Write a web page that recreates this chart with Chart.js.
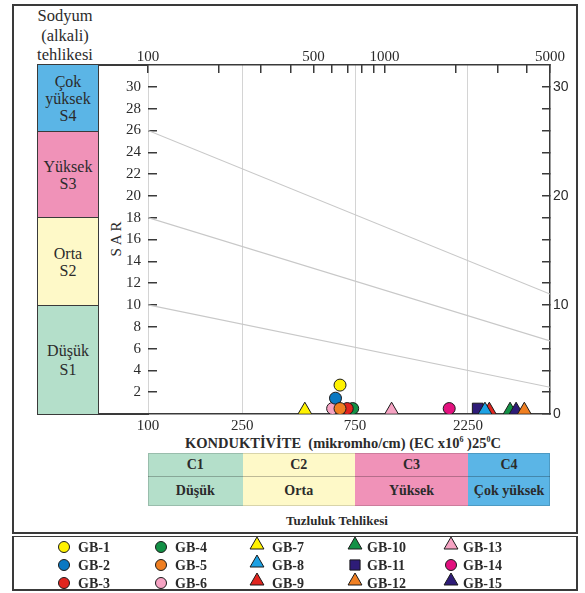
<!DOCTYPE html>
<html>
<head>
<meta charset="utf-8">
<title>Sodyum ve tuzluluk tehlikesi diyagramı</title>
<script src="https://cdn.jsdelivr.net/npm/chart.js@4.4.1/dist/chart.umd.min.js"></script>
<style>
  html, body { margin: 0; padding: 0; background: #fff; }
  #wrap { position: relative; width: 585px; height: 593px; overflow: hidden;
          font-family: "Liberation Serif", "Times New Roman", serif; color: #2b2b2b; }
  #wrap canvas { position: absolute; left: 0; top: 0; }
  .abs { position: absolute; box-sizing: border-box; }
  .frame { border: 2px solid #3a3a3a; }
  .hline { background: #3a3a3a; height: 1.5px; }
  .sbox { left: 37px; width: 62px; border: 1.5px solid #3a3a3a; display: flex; flex-direction: column;
          align-items: center; justify-content: center; font-size: 16px; line-height: 17px; text-align: center; }
  .cell { display: flex; align-items: center; justify-content: center; font-weight: bold; font-size: 14px; }
</style>
</head>
<body>
<div id="wrap">
  <!-- outer frames -->
  <div class="abs frame" style="left:12px; top:4px; width:566px; height:530px;"></div>
  <div class="abs frame" style="left:12px; top:536px; width:566px; height:55px; border-width:1.5px 2px 2px 2px;"></div>

  <!-- sodium hazard heading -->
  <div class="abs" style="left:15px; top:6px; width:100px; text-align:center; font-size:16.5px; line-height:19.5px;">Sodyum<br>(alkali)<br>tehlikesi</div>

  <!-- extended axis lines under the sodium column -->
  <div class="abs hline" style="left:37px; top:64px; width:112px;"></div>
  <div class="abs hline" style="left:37px; top:413px; width:112px;"></div>

  <!-- sodium hazard classes -->
  <div class="abs sbox" style="top:64px; height:68px; background:#5bb5e6;">Çok<br>yüksek<br>S4</div>
  <div class="abs sbox" style="top:130.5px; height:88px; background:#f092b8;">Yüksek<br>S3</div>
  <div class="abs sbox" style="top:216.5px; height:90px; background:#fef9c8;">Orta<br>S2</div>
  <div class="abs sbox" style="top:304.5px; height:110px; background:#b4dfca; line-height:19px;">Düşük<br>S1</div>

  <!-- SAR axis title -->
  <div class="abs" style="left:86px; top:229px; width:60px; text-align:center; font-size:15px; letter-spacing:3px; transform:rotate(-90deg);">SAR</div>

  <!-- conductivity title -->
  <div class="abs" style="left:143px; top:435px; width:400px; text-align:center; font-weight:bold; font-size:14.5px; white-space:nowrap;">KONDUKTİVİTE&nbsp; (mikromho/cm) (EC x10<sup style="font-size:8px;">6</sup> )25<sup style="font-size:8px;">0</sup>C</div>

  <!-- salinity hazard classes -->
  <div class="abs cell" style="left:148px; top:453px; width:94.5px; height:23px; background:#b4dfca;">C1</div>
  <div class="abs cell" style="left:242.5px; top:453px; width:112.5px; height:23px; background:#fef9c8;">C2</div>
  <div class="abs cell" style="left:355px; top:453px; width:113px; height:23px; background:#f092b8;">C3</div>
  <div class="abs cell" style="left:468px; top:453px; width:82px; height:23px; background:#5bb5e6;">C4</div>
  <div class="abs cell" style="left:148px; top:476px; width:94.5px; height:30px; background:#b4dfca;">Düşük</div>
  <div class="abs cell" style="left:242.5px; top:476px; width:112.5px; height:30px; background:#fef9c8;">Orta</div>
  <div class="abs cell" style="left:355px; top:476px; width:113px; height:30px; background:#f092b8;">Yüksek</div>
  <div class="abs cell" style="left:468px; top:476px; width:82px; height:30px; background:#5bb5e6;">Çok yüksek</div>
  <div class="abs" style="left:148px; top:475.5px; width:402px; height:1px; background:rgba(0,0,0,0.25);"></div>
  <div class="abs" style="left:148px; top:453px; width:402px; height:53px; border:1px solid rgba(0,0,0,0.15);"></div>

  <div class="abs" style="left:237px; top:513px; width:200px; text-align:center; font-weight:bold; font-size:13px;">Tuzluluk Tehlikesi</div>

  <canvas id="chart" width="585" height="593"></canvas>
</div>

<script>
// ---- sample data: electrical conductivity (µmho/cm) and sodium adsorption ratio ----
const samples   = ['GB-1','GB-2','GB-3','GB-4','GB-5','GB-6','GB-7','GB-8','GB-9','GB-10','GB-11','GB-12','GB-13','GB-14','GB-15'];
const ecValues  = [648, 620, 695, 733, 648, 603, 460, 2655, 2770, 3390, 2475, 3895, 1070, 1875, 3595];
const sarValues = [2.65, 1.45, 0.5, 0.5, 0.5, 0.5, 0.35, 0.35, 0.35, 0.35, 0.5, 0.35, 0.35, 0.5, 0.35];

// ---- class boundary lines (SAR at EC = 100 and EC = 5000) ----
const ecRange      = [100, 5000];
const boundaryS1S2 = [10, 2.45];
const boundaryS2S3 = [18, 6.7];
const boundaryS3S4 = [26, 11];

// ---- axis ticks ----
const bottomTickValues = [100, 250, 750, 2250];
const topTickValues    = [100, 200, 300, 400, 500, 600, 700, 800, 900, 1000, 2000, 3000, 4000, 5000];
const topLabelValues   = [100, 500, 1000, 5000];
const leftSarTicks     = [2, 4, 6, 8, 10, 12, 14, 16, 18, 20, 22, 24, 26, 28, 30];
const rightSarTicks    = [0, 2, 4, 6, 8, 10, 12, 14, 16, 18, 20, 22, 24, 26, 28, 30];
const rightSarLabels   = [0, 10, 20, 30];

// ---- marker styling ----
const markerShapes = ['circle','circle','circle','circle','circle','circle','triangle','triangle','triangle','triangle','rect','triangle','triangle','circle','triangle'];
const markerColors = ['#fff200','#0a78c2','#e1251f','#139146','#f07f21','#f6a3c3','#fff200','#1da1e3','#e1251f','#139146','#2e1c78','#f07f21','#f6a3c3','#e3117f','#2e1c78'];
const markerLayer  = [1, 4, 3, 5, 2, 6, 7, 8, 9, 12, 10, 11, 13, 14, 11.5];
const shapeRadius  = { circle: 6, triangle: 8, rect: 7.6 };

const SERIF = '"Liberation Serif", "Times New Roman", serif';
const SANS  = '"Liberation Sans", Arial, sans-serif';
const INK   = '#2b2b2b';

function boundary(vals) {
  return {
    data: [{ x: ecRange[0], y: vals[0] }, { x: ecRange[1], y: vals[1] }],
    showLine: true, borderColor: '#c8c8c8', borderWidth: 1.2,
    pointRadius: 0, pointHoverRadius: 0, order: 100
  };
}

const sampleDatasets = samples.map((name, i) => ({
  label: name,
  data: [{ x: ecValues[i], y: sarValues[i] }],
  pointStyle: markerShapes[i],
  pointRadius: shapeRadius[markerShapes[i]],
  pointHoverRadius: shapeRadius[markerShapes[i]],
  backgroundColor: markerColors[i],
  borderColor: '#1a1a1a',
  borderWidth: 1,
  order: markerLayer[i]
}));

// legend laid out in five columns of three entries
const legendPlugin = {
  id: 'sampleLegend',
  afterDraw(chart) {
    const ctx = chart.ctx;
    const markerX = [64, 161, 257, 355, 451];
    const textX   = [78, 175, 272, 367, 463];
    const rowY    = [547, 565, 583];
    ctx.save();
    samples.forEach((name, i) => {
      const c = Math.floor(i / 3), r = i % 3;
      const shape = markerShapes[i];
      const rad = shape === 'circle' ? 5.5 : shape === 'rect' ? 7.2 : 8;
      const dy = shape === 'triangle' ? -2 : 0;
      ctx.fillStyle = markerColors[i];
      ctx.strokeStyle = '#1a1a1a';
      ctx.lineWidth = 1;
      Chart.helpers.drawPoint(ctx, { pointStyle: shape, radius: rad, borderWidth: 1, rotation: 0 }, markerX[c], rowY[r] + dy);
      ctx.fillStyle = INK;
      ctx.font = 'bold 14px ' + SERIF;
      ctx.textAlign = 'left';
      ctx.textBaseline = 'middle';
      ctx.fillText(name, textX[c], rowY[r] + 1);
    });
    ctx.restore();
  }
};

new Chart(document.getElementById('chart'), {
  type: 'scatter',
  data: {
    datasets: [boundary(boundaryS1S2), boundary(boundaryS2S3), boundary(boundaryS3S4), ...sampleDatasets]
  },
  options: {
    responsive: false,
    animation: false,
    layout: { padding: 0 },
    plugins: { legend: { display: false }, tooltip: { enabled: false } },
    scales: {
      x: {
        type: 'logarithmic', position: 'bottom', min: ecRange[0], max: ecRange[1],
        afterBuildTicks: s => { s.ticks = bottomTickValues.map(v => ({ value: v })); },
        afterFit: s => { s.height = 179; },
        grid: { color: '#d4d4d4', lineWidth: 1, drawTicks: false },
        border: { color: '#3a3a3a', width: 1.5 },
        ticks: { padding: 3, autoSkip: false, maxRotation: 0, color: INK,
                 font: { family: SERIF, size: 15 }, callback: v => String(v) }
      },
      x2: {
        type: 'logarithmic', position: 'top', min: ecRange[0], max: ecRange[1],
        afterBuildTicks: s => { s.ticks = topTickValues.map(v => ({ value: v })); },
        afterFit: s => { s.height = 65; },
        grid: { drawOnChartArea: false, tickLength: -8, color: '#3a3a3a', lineWidth: 1.5 },
        border: { color: '#3a3a3a', width: 1.5 },
        ticks: { padding: 7, autoSkip: false, maxRotation: 0, color: INK,
                 font: { family: SERIF, size: 15 },
                 callback: v => topLabelValues.includes(v) ? String(v) : '' }
      },
      y: {
        type: 'linear', position: 'left', min: 0, max: 32,
        afterBuildTicks: s => { s.ticks = leftSarTicks.map(v => ({ value: v })); },
        afterFit: s => { s.width = 148; },
        grid: { drawOnChartArea: false, tickLength: -9, color: '#3a3a3a', lineWidth: 1.5 },
        border: { display: false },
        ticks: { padding: 16, autoSkip: false, color: INK, font: { family: SERIF, size: 15 } }
      },
      y2: {
        type: 'linear', position: 'right', min: 0, max: 32,
        afterBuildTicks: s => { s.ticks = rightSarTicks.map(v => ({ value: v })); },
        afterFit: s => { s.width = 35; },
        grid: { drawOnChartArea: false, tickLength: -8, color: '#3a3a3a', lineWidth: 1.5 },
        border: { color: '#3a3a3a', width: 1.5 },
        ticks: { padding: 11, autoSkip: false, color: INK, font: { family: SANS, size: 14 },
                 callback: v => rightSarLabels.includes(v) ? String(v) : '' }
      }
    }
  },
  plugins: [legendPlugin]
});
</script>
</body>
</html>
